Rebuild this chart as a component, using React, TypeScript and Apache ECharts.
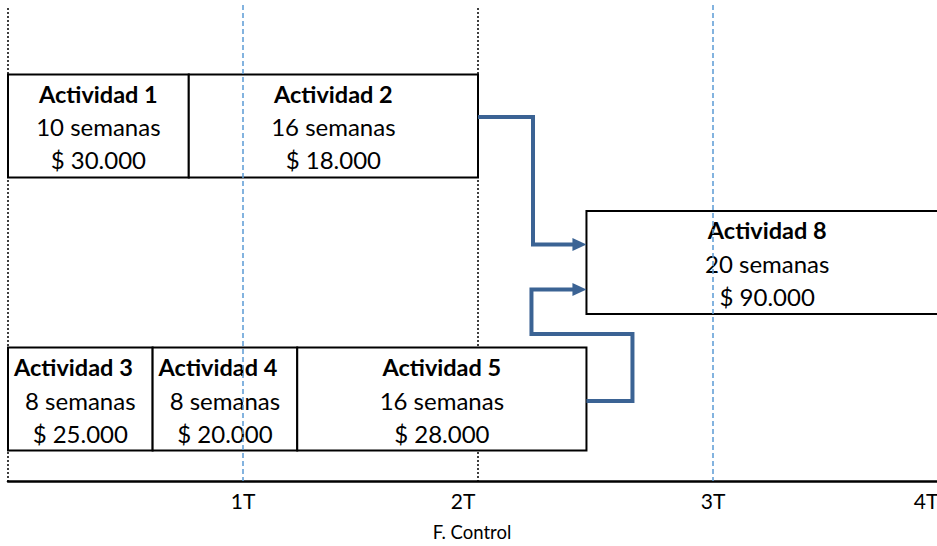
import React, { useEffect, useRef } from "react";
import * as echarts from "echarts";

// ---- data ----
const activities = ["Actividad 1", "Actividad 2", "Actividad 3", "Actividad 4", "Actividad 5", "Actividad 8"];
const durationWeeks = [10, 16, 8, 8, 16, 20];
const costs = [30000, 18000, 25000, 20000, 28000, 90000];
const startWeeks = [0, 10, 0, 8, 16, 32];
const lanes = [3, 3, 1, 1, 1, 2];
const dependencies: [string, string][] = [
  ["Actividad 2", "Actividad 8"],
  ["Actividad 5", "Actividad 8"],
];
const quarterWeeks = [13, 26, 39, 52];
const quarterLabels = ["1T", "2T", "3T", "4T"];
const controlWeeks = [0, 26];
const quarterMarkWeeks = [13, 39];
const axisTitle = "F. Control";

const FONT = "Lato";
const ARROW = "#3B6394";

function fmtCost(n: number) {
  return "$ " + String(n).replace(/\B(?=(\d{3})+(?!\d))/g, ".");
}

export default function App() {
  const ref = useRef<HTMLDivElement>(null);
  useEffect(() => {
    if (!ref.current) return;
    const chart = echarts.init(ref.current, undefined, { renderer: "svg" });
    const BOX_H = 103;

    const boxData = activities.map((_, i) => [startWeeks[i], startWeeks[i] + durationWeeks[i], lanes[i], i]);
    const depData = dependencies.map(([a, b]) => [activities.indexOf(a), activities.indexOf(b)]);

    const vline = (color: string, dash: number[], topOff: number) => (params: any, api: any) => {
      const cs = params.coordSys;
      const p = api.coord([api.value(0), 1]);
      return {
        type: "line",
        shape: { x1: p[0], y1: cs.y + topOff, x2: p[0], y2: cs.y + cs.height },
        style: { stroke: color, lineWidth: 1.5, lineDash: dash },
      };
    };

    const txt = (text: string, x: number, y: number, align: string, bold: boolean) => ({
      type: "text",
      style: {
        text,
        x,
        y,
        align,
        verticalAlign: "middle",
        fontFamily: FONT,
        fontWeight: bold ? "bold" : "normal",
        fontSize: bold ? 23.5 : 24,
        fill: "#000",
      },
    });

    const option: any = {
      animation: false,
      backgroundColor: "#ffffff",
      grid: { left: 8, width: 940, top: 3, bottom: 65, containLabel: false, outerBoundsMode: "none" },
      xAxis: {
        type: "value",
        min: 0,
        max: 52,
        interval: 13,
        axisLine: { show: true, lineStyle: { color: "#000", width: 2.5 } },
        axisTick: { show: false },
        splitLine: { show: false },
        axisLabel: {
          showMaxLabel: true,
          hideOverlap: false,
          margin: 9,
          color: "#000",
          fontFamily: FONT,
          fontSize: 21,
          formatter: (v: number) => {
            const i = quarterWeeks.indexOf(v);
            if (i < 0) return "";
            if (i === 1) return "{s|" + quarterLabels[i] + "}";
            if (i === 3) return "{e|" + quarterLabels[i] + "}";
            return quarterLabels[i];
          },
          rich: {
            s: { padding: [0, 30, 0, 0], fontFamily: FONT, fontSize: 21, color: "#000" },
            e: { padding: [0, 44, 0, 0], fontFamily: FONT, fontSize: 21, color: "#000" },
          },
        },
        name: axisTitle,
        nameLocation: "middle",
        nameGap: 41,
        nameTextStyle: { color: "#000", fontFamily: FONT, fontSize: 18.5, padding: [0, 12, 0, 0] },
      },
      yAxis: { type: "value", min: 0.4, max: 3.9, show: false },
      series: [
        {
          type: "custom",
          name: "control",
          z: 1,
          data: controlWeeks.map((w) => [w]),
          encode: { x: 0 },
          renderItem: vline("#000000", [2, 2], 5),
        },
        {
          type: "custom",
          name: "actividades",
          z: 2,
          data: boxData,
          encode: { x: [0, 1], y: 2 },
          renderItem: (params: any, api: any) => {
            const s = api.coord([api.value(0), api.value(2)]);
            const e = api.coord([api.value(1), api.value(2)]);
            const idx = api.value(3);
            const x = s[0];
            const w = e[0] - s[0];
            const cy = s[1];
            const y = cy - BOX_H / 2;
            const narrow = w < 160;
            return {
              type: "group",
              children: [
                {
                  type: "rect",
                  shape: { x, y, width: w, height: BOX_H },
                  style: { fill: "#ffffff", stroke: "#000000", lineWidth: 2 },
                },
                txt(activities[idx], narrow ? x + 6 : x + w / 2, cy - 32, narrow ? "left" : "center", true),
                txt(durationWeeks[idx] + " semanas", x + w / 2, cy + 1, "center", false),
                txt(fmtCost(costs[idx]), x + w / 2, cy + 34, "center", false),
              ],
            };
          },
        },
        {
          type: "custom",
          name: "trimestres",
          z: 3,
          data: quarterMarkWeeks.map((w) => [w]),
          encode: { x: 0 },
          renderItem: vline("#5B9BD5", [5, 3], 2),
        },
        {
          type: "custom",
          name: "dependencias",
          z: 4,
          data: depData,
          renderItem: (params: any, api: any) => {
            const a = api.value(0);
            const b = api.value(1);
            const src = api.coord([startWeeks[a] + durationWeeks[a], lanes[a]]);
            const dst = api.coord([startWeeks[b], lanes[b]]);
            let pts: number[][];
            let endY: number;
            if (dst[0] - src[0] > 30) {
              const midX = src[0] + 55;
              endY = dst[1] - 18;
              pts = [
                [src[0], src[1] - 9],
                [midX, src[1] - 9],
                [midX, endY],
                [dst[0] - 13, endY],
              ];
            } else {
              const outX = src[0] + 46;
              const backX = dst[0] - 55;
              const upY = src[1] - 65;
              endY = dst[1] + 27;
              pts = [
                [src[0], src[1] + 2],
                [outX, src[1] + 2],
                [outX, upY],
                [backX, upY],
                [backX, endY],
                [dst[0] - 13, endY],
              ];
            }
            return {
              type: "group",
              children: [
                {
                  type: "polyline",
                  shape: { points: pts },
                  style: { stroke: ARROW, lineWidth: 4, fill: "none", lineJoin: "miter" },
                },
                {
                  type: "polygon",
                  shape: {
                    points: [
                      [dst[0] - 14, endY - 6.5],
                      [dst[0], endY],
                      [dst[0] - 14, endY + 6.5],
                    ],
                  },
                  style: { fill: ARROW },
                },
              ],
            };
          },
        },
      ],
    };
    chart.setOption(option);
    return () => chart.dispose();
  }, []);
  return (
    <div
      ref={ref}
      style={{ position: "absolute", left: 0, top: 0, width: 937, height: 546, background: "#fff" }}
    />
  );
}
